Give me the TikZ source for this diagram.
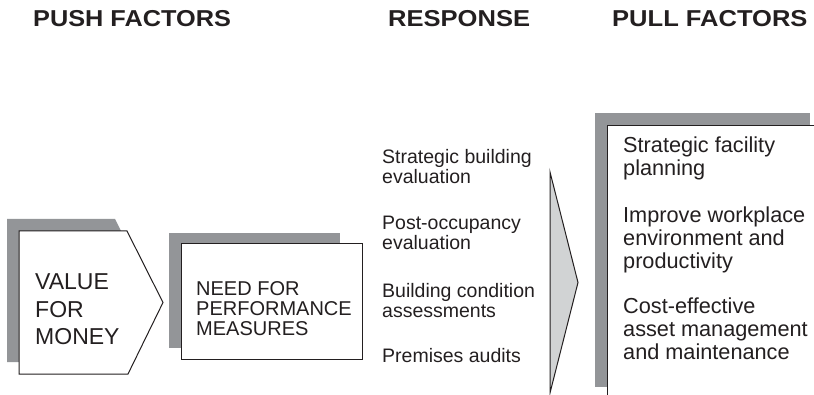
\documentclass[tikz,border=0pt]{standalone}
\usepackage{fontspec}
\usepackage{graphicx}
\setmainfont{Liberation Sans}
\definecolor{shadowgrey}{RGB}{147,149,152}
\definecolor{arrowfill}{RGB}{209,211,212}
\definecolor{ink}{RGB}{35,31,32}
\begin{document}
\begin{tikzpicture}[x=1pt,y=-1pt,
  panel/.style={fill=white, draw=ink, line width=1pt},
  backing/.style={fill=shadowgrey, draw=none},
  titletext/.style={anchor=base west, inner sep=0, text=ink, font=\fontsize{23}{23}\selectfont\bfseries},
  txt/.style={anchor=north west, inner sep=0, align=left, text=ink}
]
\useasboundingbox (0,0) rectangle (814,395);
\clip (0,0) rectangle (814,395);

% push factor shapes
\path[backing] (7,219) -- (115,219) -- (151,290.5) -- (116,362) -- (7,362) -- cycle;
\draw[panel] (19,231) -- (127,231) -- (163,302.5) -- (128,374) -- (19,374) -- cycle;
\path[backing] (169,233) rectangle (340,348);
\draw[panel] (181,244) rectangle (362,359);

% response arrow
\draw[panel, fill=arrowfill] (550,172) -- (578,282.5) -- (550,393) -- cycle;

% pull factors panel
\path[backing] (595,113) rectangle (810,387);
\draw[panel] (607,126) rectangle (840,430);

% titles
\node[titletext] (tpush) at (33,27) {\scalebox{1.1}[1]{PUSH FACTORS}};
\node[titletext] (tresp) at (388,27) {\scalebox{1.11}[1]{RESPONSE}};
\node[titletext] (tpull) at (612,27) {\scalebox{1.11}[1]{PULL FACTORS}};

% push texts
\node[txt, font=\fontsize{23}{27.5}\selectfont] (vfm) at (35,266.5)
  {\rule{0pt}{23pt}VALUE\\FOR\\MONEY};
\node[txt, font=\fontsize{20}{20}\selectfont] (need) at (196,275)
  {\rule{0pt}{20pt}NEED FOR\\PERFORMANCE\\MEASURES};

% response texts
\node[txt, font=\fontsize{19.5}{20.5}\selectfont] (r1) at (382,143.5)
  {\rule{0pt}{19.5pt}Strategic building\\evaluation};
\node[txt, font=\fontsize{19.5}{20.5}\selectfont] (r2) at (382,209.5)
  {\rule{0pt}{19.5pt}Post-occupancy\\evaluation};
\node[txt, font=\fontsize{19.5}{20.5}\selectfont] (r3) at (382,277.5)
  {\rule{0pt}{19.5pt}Building condition\\assessments};
\node[txt, font=\fontsize{19.5}{20.5}\selectfont] (r4) at (382,342.5)
  {\rule{0pt}{19.5pt}Premises audits};

% pull texts
\node[txt, font=\fontsize{21.7}{23}\selectfont] (p1) at (623,130.3)
  {\rule{0pt}{21.7pt}Strategic facility\\planning};
\node[txt, font=\fontsize{21.7}{23}\selectfont] (p2) at (623,200.3)
  {\rule{0pt}{21.7pt}Improve workplace\\environment and\\productivity};
\node[txt, font=\fontsize{21.7}{23}\selectfont] (p3) at (623,291.3)
  {\rule{0pt}{21.7pt}Cost-effective\\asset management\\and maintenance};
\end{tikzpicture}
\end{document}
